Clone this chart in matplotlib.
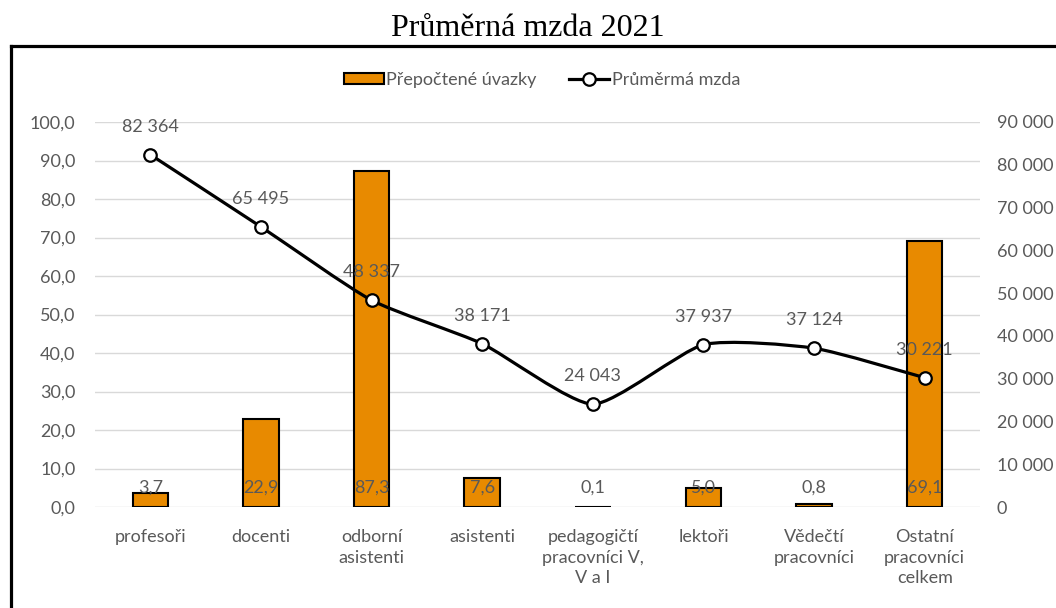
import numpy as np
import matplotlib
matplotlib.use("Agg")
import matplotlib.pyplot as plt
from matplotlib.path import Path
from matplotlib.patches import PathPatch, Patch
from matplotlib.lines import Line2D
from matplotlib.ticker import FuncFormatter, MultipleLocator

plt.rcParams['font.family'] = ['Lato', 'DejaVu Sans']

# Data
kategorie = ['profesoři', 'docenti', 'odborní\nasistenti', 'asistenti',
             'pedagogičtí\npracovníci V,\nV a I', 'lektoři',
             'Vědečtí\npracovníci', 'Ostatní\npracovníci\ncelkem']
uvazky = [3.7, 22.9, 87.3, 7.6, 0.1, 5.0, 0.8, 69.1]
mzda = [82364, 65495, 48337, 38171, 24043, 37937, 37124, 30221]

seda = '#595959'
oranzova = '#E88A00'
fs = 13

fig = plt.figure(figsize=(10.56, 6.08), dpi=100)
ax = fig.add_axes([95/1056, 1-507/608, 885/1056, 385/608])
ax2 = ax.twinx()

x = np.arange(len(kategorie))

# Bars
ax.bar(x, uvazky, width=0.32, color=oranzova, edgecolor='black',
       linewidth=1.5, zorder=2)
for xi, v in zip(x, uvazky):
    ax.annotate(f'{v:.1f}'.replace('.', ','), (xi, 0), xytext=(0, 14),
                textcoords='offset points', ha='center', va='center',
                fontsize=fs, color=seda, zorder=5)

ax.set_xlim(-0.5, len(kategorie) - 0.5)
ax.set_ylim(0, 100)
ax.yaxis.set_major_locator(MultipleLocator(10))
ax.yaxis.set_major_formatter(FuncFormatter(lambda v, p: f'{v:.1f}'.replace('.', ',')))
ax.grid(axis='y', color='#D9D9D9', linewidth=1, zorder=0)
ax.set_axisbelow(True)
ax.set_xticks(x)
ax.set_xticklabels(kategorie, fontsize=fs, color=seda, linespacing=1.33)
ax.tick_params(axis='both', length=0, labelsize=fs, labelcolor=seda)
ax.tick_params(axis='x', pad=16)
ax.tick_params(axis='y', pad=14)
for s in ax.spines.values():
    s.set_visible(False)

# Mírně vyhlazená čára (Bezier)
k = 1 / 10
body = list(zip(x.astype(float), mzda))
ext = [body[0]] + body + [body[-1]]
verts = [body[0]]
codes = [Path.MOVETO]
for i in range(1, len(ext) - 2):
    p0, p1, p2, p3 = (np.array(ext[i - 1]), np.array(ext[i]),
                      np.array(ext[i + 1]), np.array(ext[i + 2]))
    c1 = p1 + (p2 - p0) * k
    c2 = p2 - (p3 - p1) * k
    verts += [tuple(c1), tuple(c2), tuple(p2)]
    codes += [Path.CURVE4] * 3
ax2.add_patch(PathPatch(Path(verts, codes), facecolor='none',
                        edgecolor='black', linewidth=2.3, zorder=3))
ax2.plot(x, mzda, linestyle='none', marker='o', markersize=9,
         markerfacecolor='white', markeredgecolor='black',
         markeredgewidth=1.6, zorder=4)
for xi, v in zip(x, mzda):
    ax2.annotate(f'{v:,}'.replace(',', ' '), (xi, v), xytext=(0, 20),
                 textcoords='offset points', ha='center', va='center',
                 fontsize=fs, color=seda, zorder=5)

ax2.set_ylim(0, 90000)
ax2.yaxis.set_major_locator(MultipleLocator(10000))
ax2.yaxis.set_major_formatter(FuncFormatter(lambda v, p: f'{int(v):,}'.replace(',', ' ')))
ax2.tick_params(axis='y', length=0, labelsize=fs, labelcolor=seda, pad=12)
for s in ax2.spines.values():
    s.set_visible(False)

# Legenda
handles = [Patch(facecolor=oranzova, edgecolor='black', linewidth=1.5),
           Line2D([], [], color='black', linewidth=2.3, marker='o',
                  markersize=9, markerfacecolor='white',
                  markeredgecolor='black', markeredgewidth=1.6)]
fig.legend(handles, ['Přepočtené úvazky', 'Průměrmá mzda'], loc='center',
           bbox_to_anchor=(542/1056, 1-80/608), ncol=2, frameon=False,
           fontsize=fs, labelcolor=seda, handlelength=2.2, handleheight=0.6,
           handletextpad=0.15, columnspacing=1.8)

# Titulek a rámeček
fig.text(0.5, 1-28/608, 'Průměrná mzda 2021', ha='center', va='center',
         fontsize=23, family='Liberation Serif')
fig.add_artist(Line2D([11/1056, 11/1056], [-0.1, 1-45.5/608], color='black',
                      linewidth=2.3, transform=fig.transFigure))
fig.add_artist(Line2D([11/1056, 1.1], [1-45.5/608, 1-45.5/608], color='black',
                      linewidth=2.3, transform=fig.transFigure))

fig.savefig('out.png', dpi=100)
